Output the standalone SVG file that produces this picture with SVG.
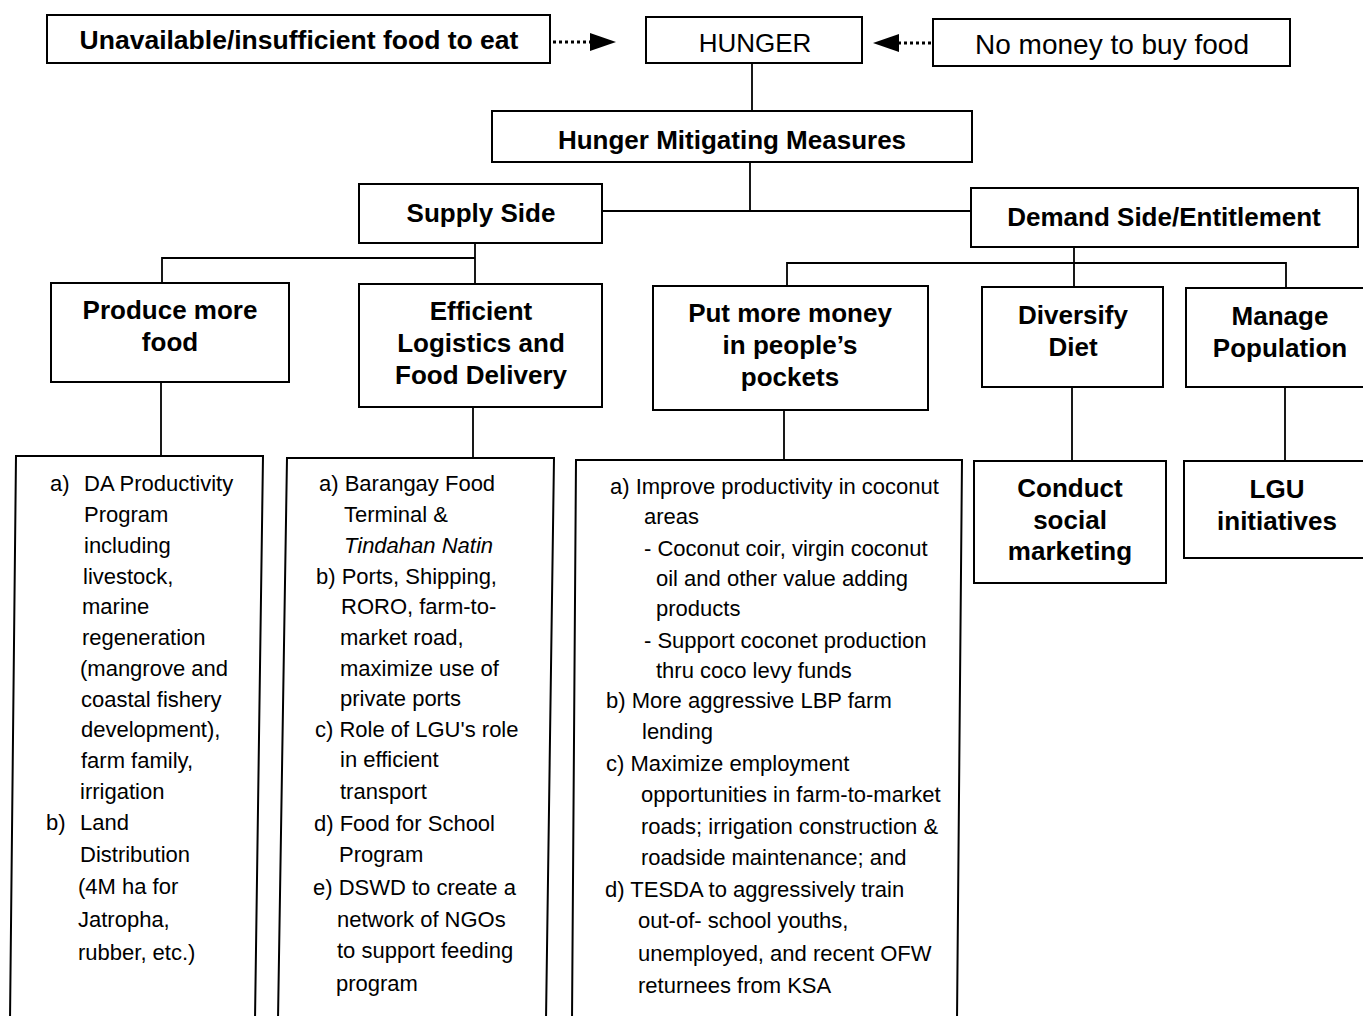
<svg xmlns="http://www.w3.org/2000/svg" width="1363" height="1016" viewBox="0 0 1363 1016">
<style>
.box{fill:#fff;stroke:#000;stroke-width:2}
.h{font-family:"Liberation Sans",Arial,sans-serif;font-weight:bold;font-size:26px;fill:#000;text-anchor:middle}
.r{font-family:"Liberation Sans",Arial,sans-serif;font-size:26px;fill:#000;text-anchor:middle}
.b{font-family:"Liberation Sans",Arial,sans-serif;font-size:22px;fill:#000}
.con{fill:none;stroke:#000;stroke-width:1.8}
.dot{fill:none;stroke:#000;stroke-width:3;stroke-dasharray:3 3}
</style>
<defs>
<marker id="ah" markerUnits="userSpaceOnUse" markerWidth="26" markerHeight="18" viewBox="0 0 26 18" refX="0" refY="9" orient="auto">
<path d="M0 0 L26 9 L0 18 Z" fill="#000"/>
</marker>
</defs>
<g id="connectors">
<path class="con" d="M752 63 V111"/>
<path class="con" d="M750 162 V211 M602 211 H971"/>
<path class="con" d="M475 243 V284 M162 283 V258 H475"/>
<path class="con" d="M1074 247 V287 M787 286 V263 H1286 V288"/>
<path class="con" d="M161 382 V456 M473 407 V458 M784 410 V460 M1072 387 V461 M1285 387 V460"/>
<line class="dot" x1="553" y1="42" x2="590" y2="42" marker-end="url(#ah)"/>
<line class="dot" x1="931" y1="43" x2="899" y2="43" marker-end="url(#ah)"/>
</g>
<g id="n-unavailable">
<rect class="box" x="47" y="15" width="503" height="48"/>
<text class="h" x="299" y="49" style="font-size:26.5px">Unavailable/insufficient food to eat</text>
</g>
<g id="n-hunger">
<rect class="box" x="646" y="17" width="216" height="46"/>
<text class="r" x="755" y="52">HUNGER</text>
</g>
<g id="n-nomoney">
<rect class="box" x="933" y="19" width="357" height="47"/>
<text class="r" x="1112" y="54" style="font-size:28px">No money to buy food</text>
</g>
<g id="n-mitigating">
<rect class="box" x="492" y="111" width="480" height="51"/>
<text class="h" x="732" y="149">Hunger Mitigating Measures</text>
</g>
<g id="n-supply">
<rect class="box" x="359" y="184" width="243" height="59"/>
<text class="h" x="481" y="222">Supply Side</text>
</g>
<g id="n-demand">
<rect class="box" x="971" y="188" width="387" height="59"/>
<text class="h" x="1164" y="226">Demand Side/Entitlement</text>
</g>
<g id="n-produce">
<rect class="box" x="51" y="283" width="238" height="99"/>
<text class="h" x="170" y="319">Produce more</text>
<text class="h" x="170" y="351">food</text>
</g>
<g id="n-efficient">
<rect class="box" x="359" y="284" width="243" height="123"/>
<text class="h" x="481" y="320">Efficient</text>
<text class="h" x="481" y="352">Logistics and</text>
<text class="h" x="481" y="384">Food Delivery</text>
</g>
<g id="n-money">
<rect class="box" x="653" y="286" width="275" height="124"/>
<text class="h" x="790" y="322">Put more money</text>
<text class="h" x="790" y="354">in people’s</text>
<text class="h" x="790" y="386">pockets</text>
</g>
<g id="n-diversify">
<rect class="box" x="982" y="287" width="181" height="100"/>
<text class="h" x="1073" y="324">Diversify</text>
<text class="h" x="1073" y="356">Diet</text>
</g>
<g id="n-manage">
<rect class="box" x="1186" y="288" width="180" height="99"/>
<text class="h" x="1280" y="325">Manage</text>
<text class="h" x="1280" y="357">Population</text>
</g>
<g id="n-produce-list">
<path class="box" d="M16 456 L263 456 L255 1020 L10 1020 Z"/>
<text class="b" x="50" y="491">a)</text>
<text class="b" x="84" y="491">DA Productivity</text>
<text class="b" x="84" y="522">Program</text>
<text class="b" x="84" y="553">including</text>
<text class="b" x="83" y="584">livestock,</text>
<text class="b" x="82" y="614">marine</text>
<text class="b" x="82" y="645">regeneration</text>
<text class="b" x="80" y="676">(mangrove and</text>
<text class="b" x="81" y="707">coastal fishery</text>
<text class="b" x="81" y="737">development),</text>
<text class="b" x="81" y="768">farm family,</text>
<text class="b" x="80" y="799">irrigation</text>
<text class="b" x="46" y="830">b)</text>
<text class="b" x="80" y="830">Land</text>
<text class="b" x="80" y="862">Distribution</text>
<text class="b" x="78" y="894">(4M ha for</text>
<text class="b" x="78" y="927">Jatropha,</text>
<text class="b" x="78" y="960">rubber, etc.)</text>
</g>
<g id="n-logistics-list">
<path class="box" d="M287 458 L554 458 L546 1020 L278 1020 Z"/>
<text class="b" x="319" y="491">a) Barangay Food</text>
<text class="b" x="344" y="522">Terminal &amp;</text>
<text class="b" x="344" y="553" font-style="italic">Tindahan Natin</text>
<text class="b" x="316" y="584">b) Ports, Shipping,</text>
<text class="b" x="341" y="614">RORO, farm-to-</text>
<text class="b" x="340" y="645">market road,</text>
<text class="b" x="340" y="676">maximize use of</text>
<text class="b" x="340" y="706">private ports</text>
<text class="b" x="315" y="737">c) Role of LGU's role</text>
<text class="b" x="340" y="767">in efficient</text>
<text class="b" x="340" y="799">transport</text>
<text class="b" x="314" y="831">d) Food for School</text>
<text class="b" x="339" y="862">Program</text>
<text class="b" x="313" y="895">e) DSWD to create a</text>
<text class="b" x="337" y="927">network of NGOs</text>
<text class="b" x="337" y="958">to support feeding</text>
<text class="b" x="336" y="991">program</text>
</g>
<g id="n-money-list">
<path class="box" d="M576 460 L962 460 L957 1020 L572 1020 Z"/>
<text class="b" x="610" y="494">a) Improve productivity in coconut</text>
<text class="b" x="644" y="524">areas</text>
<text class="b" x="644" y="556">- Coconut coir, virgin coconut</text>
<text class="b" x="656" y="586">oil and other value adding</text>
<text class="b" x="656" y="616">products</text>
<text class="b" x="644" y="648">- Support coconet production</text>
<text class="b" x="656" y="678">thru coco levy funds</text>
<text class="b" x="606" y="708">b) More aggressive LBP farm</text>
<text class="b" x="642" y="739">lending</text>
<text class="b" x="606" y="771">c) Maximize employment</text>
<text class="b" x="641" y="802">opportunities in farm-to-market</text>
<text class="b" x="641" y="834">roads; irrigation construction &amp;</text>
<text class="b" x="641" y="865">roadside maintenance; and</text>
<text class="b" x="605" y="897">d) TESDA to aggressively train</text>
<text class="b" x="638" y="928">out-of- school youths,</text>
<text class="b" x="638" y="961">unemployed, and recent OFW</text>
<text class="b" x="638" y="993">returnees from KSA</text>
</g>
<g id="n-social">
<rect class="box" x="974" y="461" width="192" height="122"/>
<text class="h" x="1070" y="497">Conduct</text>
<text class="h" x="1070" y="529">social</text>
<text class="h" x="1070" y="560">marketing</text>
</g>
<g id="n-lgu">
<rect class="box" x="1184" y="461" width="182" height="97"/>
<text class="h" x="1277" y="498">LGU</text>
<text class="h" x="1277" y="530">initiatives</text>
</g>
</svg>
